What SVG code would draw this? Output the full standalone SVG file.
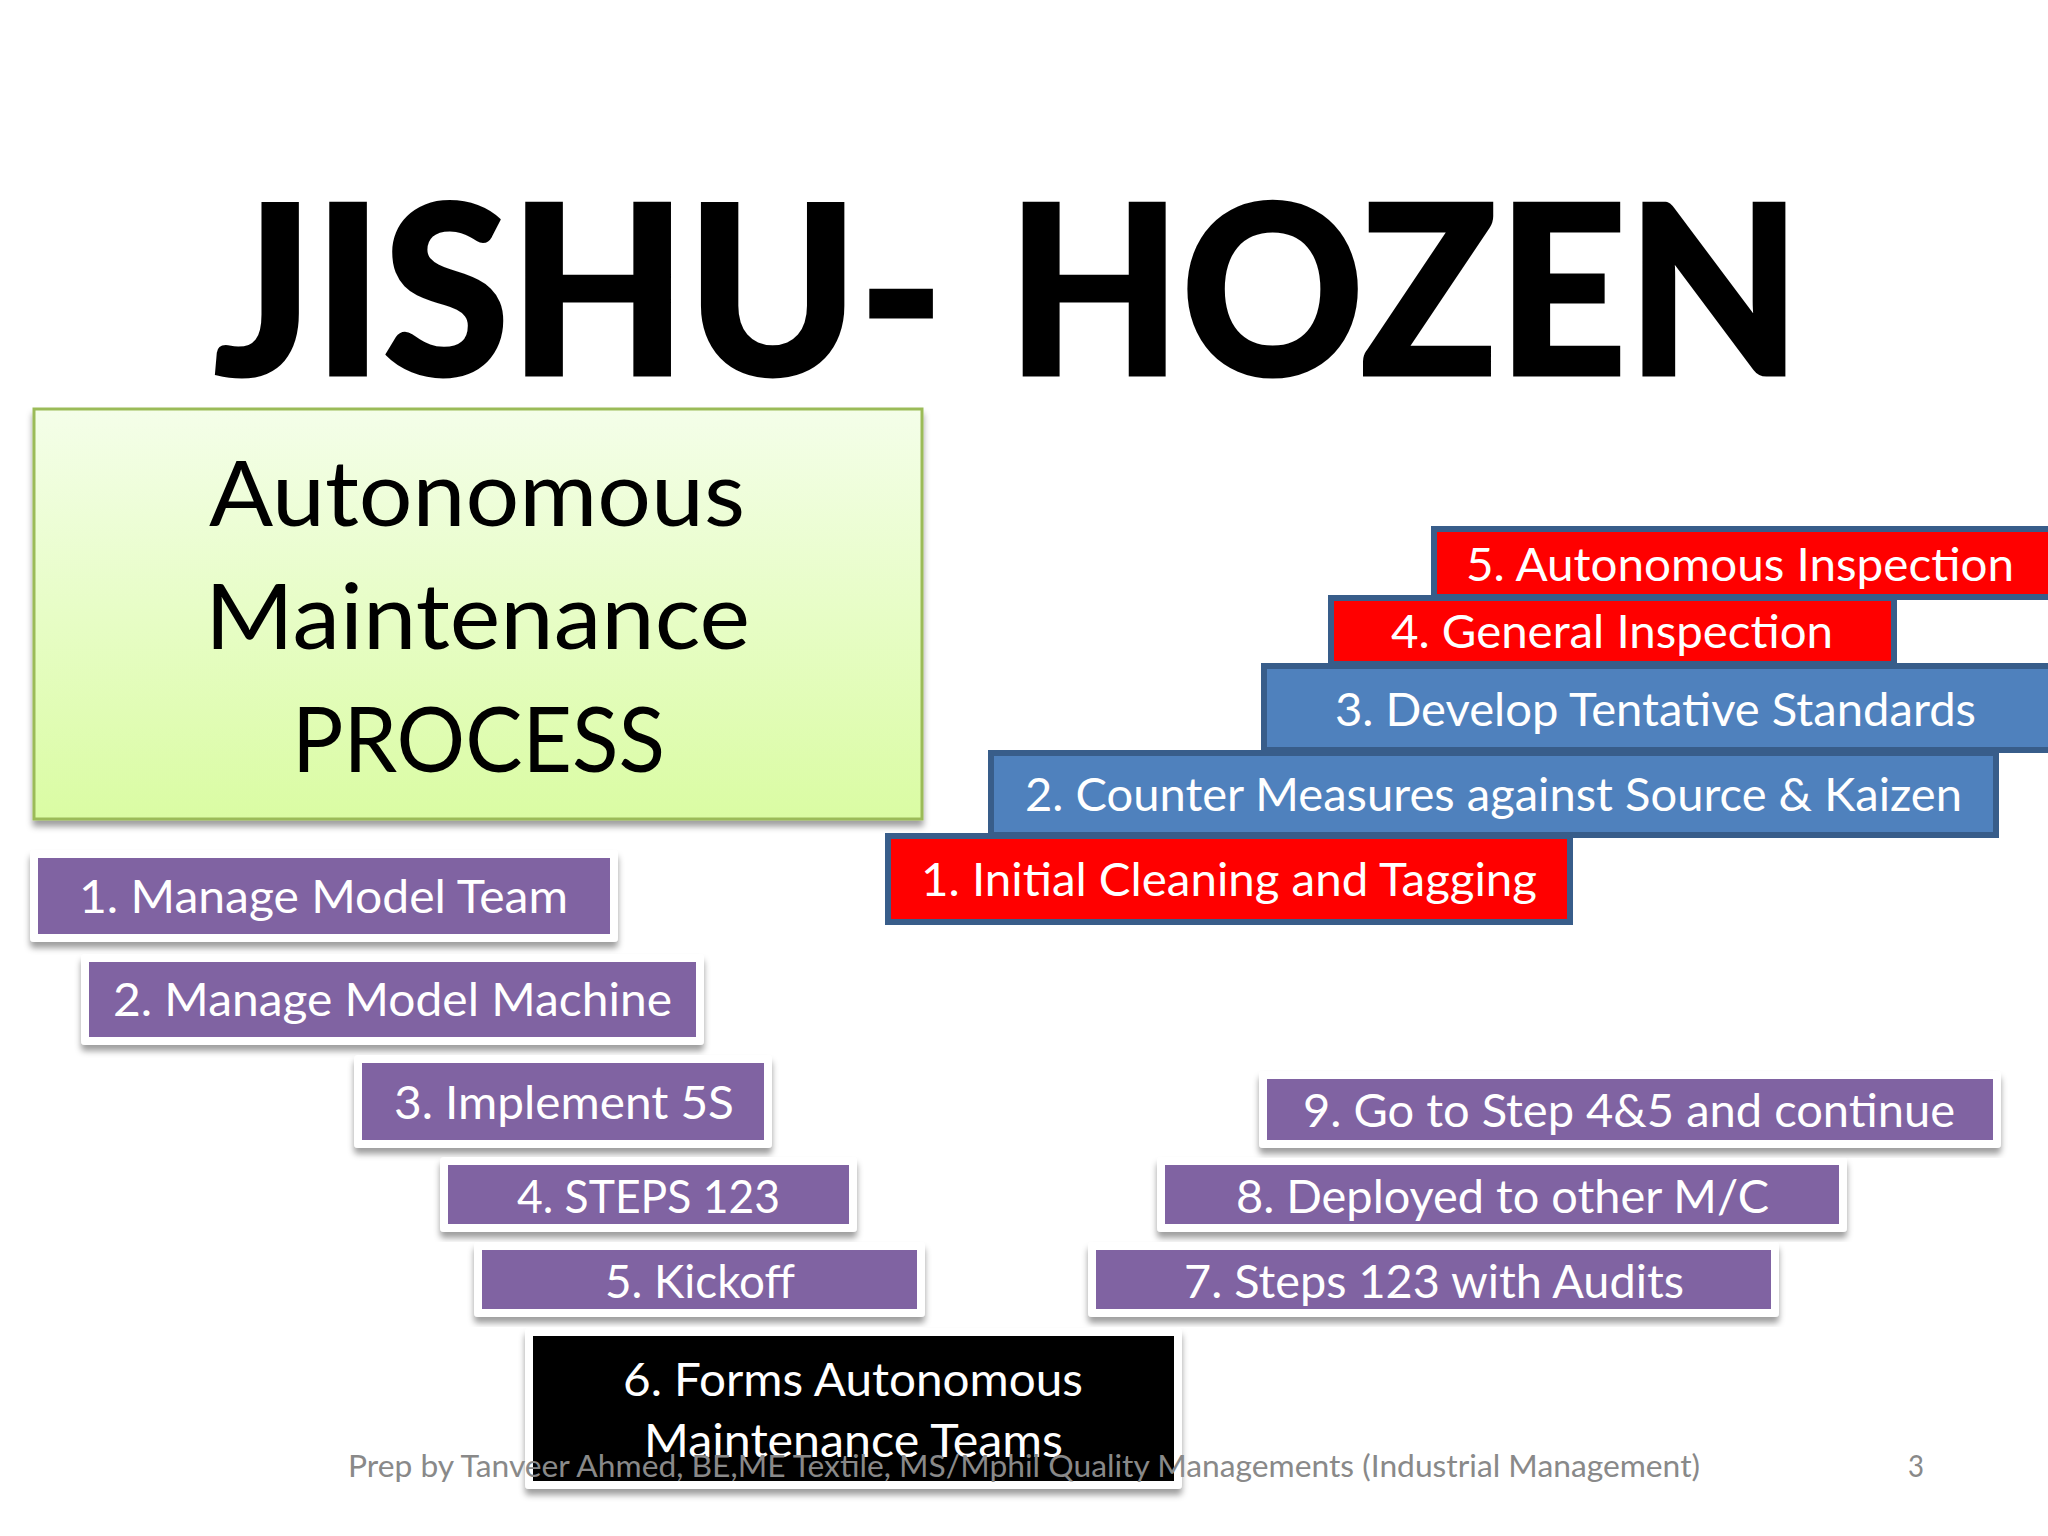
<svg xmlns="http://www.w3.org/2000/svg" width="2048" height="1536" viewBox="0 0 2048 1536">
<style>
text{font-family:"Lato","Carlito","Liberation Sans",sans-serif}
.w{fill:#fff;font-size:47px}
.k{fill:#000;font-size:92px}
.f{fill:#898989;font-size:30px}
.p{fill:#8064a2;stroke:#fff;stroke-width:8;stroke-linejoin:round;filter:url(#s)}
.b{fill:#000;stroke:#fff;stroke-width:8;stroke-linejoin:round;filter:url(#s)}
.r{fill:#f00;stroke:#385d8a;stroke-width:6}
.u{fill:#4f81bd;stroke:#385d8a;stroke-width:6}
</style>
<defs>
<linearGradient id="g" x1="0" y1="0" x2="0" y2="1"><stop offset="0" stop-color="#f4fee9"/><stop offset="1" stop-color="#dafca3"/></linearGradient>
<filter id="s" x="-5%" y="-10%" width="110%" height="130%"><feDropShadow dx="0" dy="6" stdDeviation="3" flood-color="#000" flood-opacity=".38"/></filter>
</defs>
<rect width="2048" height="1536" fill="#fff"/>
<text id="title" y="375" font-size="236" fill="#000" stroke="#000" stroke-width="3" style="font-weight:900"><tspan x="214" textLength="730" lengthAdjust="spacingAndGlyphs">JISHU-</tspan> <tspan x="1007" textLength="794" lengthAdjust="spacingAndGlyphs">HOZEN</tspan></text>
<g id="header">
<rect x="34" y="409" width="888" height="410" fill="url(#g)" stroke="#9bbb59" stroke-width="3" filter="url(#s)"/>
<text class="k" x="209" y="526" textLength="536" lengthAdjust="spacingAndGlyphs">Autonomous</text>
<text class="k" x="205" y="649" textLength="545" lengthAdjust="spacingAndGlyphs">Maintenance</text>
<text class="k" x="292" y="772" textLength="373" lengthAdjust="spacingAndGlyphs">PROCESS</text>
</g>
<g id="stair5"><rect class="r" x="1434" y="529" width="630" height="68"/><text class="w" x="1466" y="581" textLength="548" lengthAdjust="spacingAndGlyphs">5. Autonomous Inspection</text></g>
<g id="stair4"><rect class="r" x="1331" y="598" width="563" height="66"/><text class="w" x="1391" y="648" textLength="442" lengthAdjust="spacingAndGlyphs">4. General Inspection</text></g>
<g id="stair3"><rect class="u" x="1264" y="666" width="800" height="84"/><text class="w" x="1335" y="726" textLength="641" lengthAdjust="spacingAndGlyphs">3. Develop Tentative Standards</text></g>
<g id="stair2"><rect class="u" x="991" y="753" width="1005" height="82"/><text class="w" x="1025" y="811" textLength="937" lengthAdjust="spacingAndGlyphs">2. Counter Measures against Source &amp; Kaizen</text></g>
<g id="stair1"><rect class="r" x="888" y="836" width="682" height="86"/><text class="w" x="921" y="896" textLength="616" lengthAdjust="spacingAndGlyphs">1. Initial Cleaning and Tagging</text></g>
<g id="step1"><rect class="p" x="34" y="854" width="580" height="84"/><text class="w" x="79" y="913" textLength="489" lengthAdjust="spacingAndGlyphs">1. Manage Model Team</text></g>
<g id="step2"><rect class="p" x="85" y="958" width="615" height="83"/><text class="w" x="113" y="1016" textLength="559" lengthAdjust="spacingAndGlyphs">2. Manage Model Machine</text></g>
<g id="step3"><rect class="p" x="358" y="1059" width="410" height="85"/><text class="w" x="394" y="1119" textLength="340" lengthAdjust="spacingAndGlyphs">3. Implement 5S</text></g>
<g id="step4"><rect class="p" x="444" y="1161" width="409" height="67"/><text class="w" x="517" y="1213" textLength="263" lengthAdjust="spacingAndGlyphs">4. STEPS 123</text></g>
<g id="step5"><rect class="p" x="478" y="1246" width="443" height="67"/><text class="w" x="605" y="1298" textLength="190" lengthAdjust="spacingAndGlyphs">5. Kickoff</text></g>
<g id="step7"><rect class="p" x="1092" y="1246" width="683" height="67"/><text class="w" x="1184" y="1298" textLength="500" lengthAdjust="spacingAndGlyphs">7. Steps 123 with Audits</text></g>
<g id="step8"><rect class="p" x="1161" y="1161" width="682" height="67"/><text class="w" x="1236" y="1213" textLength="533" lengthAdjust="spacingAndGlyphs">8. Deployed to other M/C</text></g>
<g id="step9"><rect class="p" x="1263" y="1075" width="734" height="69"/><text class="w" x="1303" y="1127" textLength="652" lengthAdjust="spacingAndGlyphs">9. Go to Step 4&amp;5 and continue</text></g>
<g id="step6"><rect class="b" x="529" y="1332" width="649" height="153"/><text class="w" x="623" y="1396" textLength="460" lengthAdjust="spacingAndGlyphs">6. Forms Autonomous</text><text class="w" x="644" y="1457" textLength="419" lengthAdjust="spacingAndGlyphs">Maintenance Teams</text></g>
<g id="footer"><text class="f" x="348" y="1477" textLength="1352" lengthAdjust="spacingAndGlyphs">Prep by Tanveer Ahmed, BE,ME Textile, MS/Mphil Quality Managements (Industrial Management)</text><text class="f" x="1908" y="1477" textLength="16" lengthAdjust="spacingAndGlyphs">3</text></g>
</svg>
